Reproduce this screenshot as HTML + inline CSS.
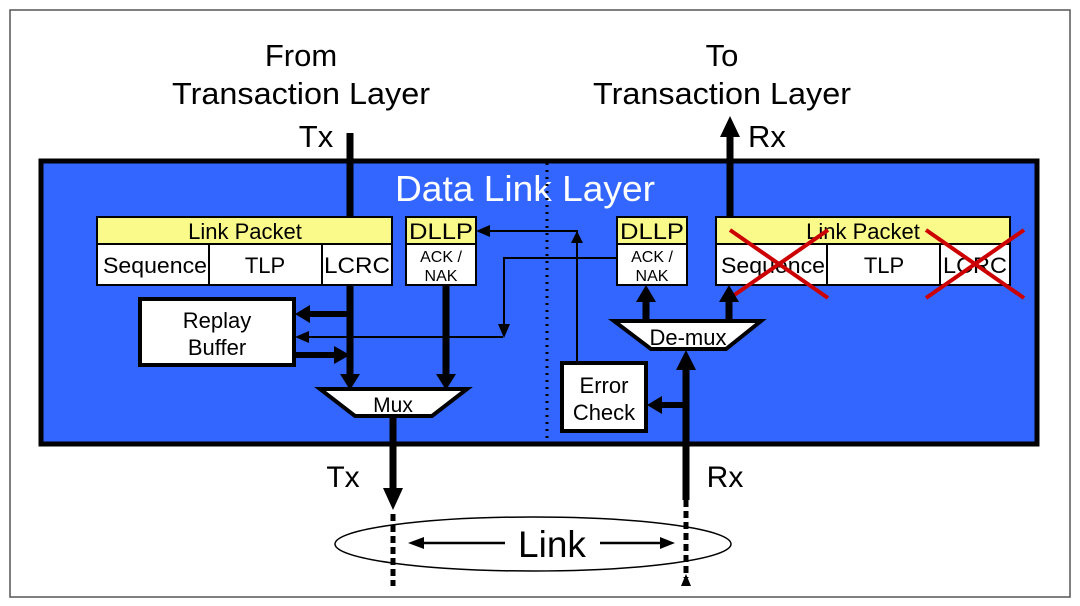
<!DOCTYPE html>
<html><head><meta charset="utf-8"><style>
html,body{margin:0;padding:0;background:#fff;}
svg{display:block;font-family:"Liberation Sans",Arial,sans-serif;}
</style></head><body>
<svg width="1080" height="606" viewBox="0 0 1080 606" xmlns="http://www.w3.org/2000/svg">
<rect x="10" y="10" width="1060" height="587" fill="#fff" stroke="#555" stroke-width="1.5"/>
<text x="301" y="66" font-size="31" text-anchor="middle">From</text>
<text x="301" y="104" font-size="31" text-anchor="middle" textLength="258" lengthAdjust="spacingAndGlyphs">Transaction Layer</text>
<text x="316" y="147" font-size="31" text-anchor="middle">Tx</text>
<text x="722" y="66" font-size="31" text-anchor="middle">To</text>
<text x="722" y="104" font-size="31" text-anchor="middle" textLength="258" lengthAdjust="spacingAndGlyphs">Transaction Layer</text>
<text x="767" y="147" font-size="31" text-anchor="middle">Rx</text>
<rect x="41" y="161" width="996" height="283" fill="#3366ff" stroke="#000" stroke-width="5"/>
<text x="525" y="201" font-size="36" fill="#fff" text-anchor="middle" textLength="260" lengthAdjust="spacingAndGlyphs">Data Link Layer</text>
<line x1="547" y1="163" x2="547" y2="442" stroke="#000" stroke-width="3" stroke-dasharray="2,5"/>
<!-- left link packet -->
<rect x="97" y="217" width="295" height="27" fill="#fafa8a" stroke="#000" stroke-width="2"/>
<text x="245" y="239" font-size="22" text-anchor="middle">Link Packet</text>
<rect x="97" y="244" width="295" height="41" fill="#fff" stroke="#000" stroke-width="2"/>
<line x1="209" y1="244" x2="209" y2="285" stroke="#000" stroke-width="2"/>
<line x1="322" y1="244" x2="322" y2="285" stroke="#000" stroke-width="2"/>
<text x="155" y="273" font-size="22" text-anchor="middle" textLength="104" lengthAdjust="spacingAndGlyphs">Sequence</text>
<text x="265" y="273" font-size="22" text-anchor="middle">TLP</text>
<text x="357" y="273" font-size="22" text-anchor="middle" textLength="66" lengthAdjust="spacingAndGlyphs">LCRC</text>
<rect x="406" y="217" width="70" height="27" fill="#fafa8a" stroke="#000" stroke-width="2"/>
<text x="441" y="239" font-size="22" text-anchor="middle" textLength="64" lengthAdjust="spacingAndGlyphs">DLLP</text>
<rect x="406" y="244" width="70" height="41" fill="#fff" stroke="#000" stroke-width="2"/>
<text x="441" y="262" font-size="16" text-anchor="middle">ACK /</text>
<text x="441" y="281" font-size="16" text-anchor="middle">NAK</text>
<!-- replay buffer -->
<rect x="140" y="299" width="154" height="66" fill="#fff" stroke="#000" stroke-width="4"/>
<text x="217" y="328" font-size="22" text-anchor="middle">Replay</text>
<text x="217" y="355" font-size="22" text-anchor="middle">Buffer</text>
<!-- Tx main line -->
<line x1="350" y1="133" x2="350" y2="217" stroke="#000" stroke-width="7"/>
<line x1="350" y1="285" x2="350" y2="376" stroke="#000" stroke-width="7"/>
<path d="M340,374 L360,374 L350,390 z"/>
<line x1="350" y1="314" x2="308" y2="314" stroke="#000" stroke-width="6"/>
<path d="M310,305 L310,323 L295,314 z"/>
<line x1="295" y1="355" x2="336" y2="355" stroke="#000" stroke-width="6"/>
<path d="M334,346 L334,364 L350,355 z"/>
<line x1="503" y1="337" x2="306" y2="337" stroke="#000" stroke-width="2"/>
<path d="M309,331 L309,343 L295,337 z"/>
<line x1="446" y1="285" x2="446" y2="376" stroke="#000" stroke-width="7"/>
<path d="M436,374 L456,374 L446,390 z"/>
<!-- thin lines from right -->
<polyline points="616,258 504,258 504,326" fill="none" stroke="#000" stroke-width="2"/>
<path d="M498,324 L510,324 L504,338 z"/>
<polyline points="577,362 577,231 488,231" fill="none" stroke="#000" stroke-width="2"/>
<path d="M490,225 L490,237 L476,231 z"/>
<path d="M571,243 L583,243 L577,231 z"/>
<!-- Mux -->
<path d="M320,389 L467,389 L432,416 L355,416 z" fill="#fff" stroke="#000" stroke-width="4"/>
<text x="393" y="412" font-size="21" text-anchor="middle">Mux</text>
<line x1="393" y1="416" x2="393" y2="492" stroke="#000" stroke-width="7"/>
<path d="M383,488 L403,488 L393,510 z"/>
<text x="343" y="487" font-size="30" text-anchor="middle">Tx</text>
<text x="725" y="487" font-size="30" text-anchor="middle">Rx</text>
<!-- right side -->
<rect x="617" y="217" width="70" height="27" fill="#fafa8a" stroke="#000" stroke-width="2"/>
<text x="652" y="239" font-size="22" text-anchor="middle" textLength="64" lengthAdjust="spacingAndGlyphs">DLLP</text>
<rect x="617" y="244" width="70" height="41" fill="#fff" stroke="#000" stroke-width="2"/>
<text x="652" y="262" font-size="16" text-anchor="middle">ACK /</text>
<text x="652" y="281" font-size="16" text-anchor="middle">NAK</text>
<rect x="716" y="217" width="294" height="27" fill="#fafa8a" stroke="#000" stroke-width="2"/>
<text x="863" y="239" font-size="22" text-anchor="middle">Link Packet</text>
<rect x="716" y="244" width="294" height="41" fill="#fff" stroke="#000" stroke-width="2"/>
<line x1="827" y1="244" x2="827" y2="285" stroke="#000" stroke-width="2"/>
<line x1="940" y1="244" x2="940" y2="285" stroke="#000" stroke-width="2"/>
<text x="773" y="273" font-size="22" text-anchor="middle" textLength="104" lengthAdjust="spacingAndGlyphs">Sequence</text>
<text x="884" y="273" font-size="22" text-anchor="middle">TLP</text>
<text x="975" y="273" font-size="22" text-anchor="middle" textLength="64" lengthAdjust="spacingAndGlyphs">LCRC</text>
<g stroke="#cc0000" stroke-width="4">
<line x1="730" y1="230" x2="828" y2="298"/><line x1="730" y1="298" x2="828" y2="230"/>
<line x1="926" y1="230" x2="1024" y2="298"/><line x1="926" y1="298" x2="1024" y2="230"/>
</g>
<line x1="730" y1="217" x2="730" y2="134" stroke="#000" stroke-width="7"/>
<path d="M720,137 L740,137 L730,116 z"/>
<!-- demux -->
<line x1="646" y1="321" x2="646" y2="300" stroke="#000" stroke-width="7"/>
<path d="M636,302 L656,302 L646,285 z"/>
<line x1="729" y1="321" x2="729" y2="300" stroke="#000" stroke-width="7"/>
<path d="M719,302 L739,302 L729,285 z"/>
<path d="M614,321 L761,321 L726,349 L651,349 z" fill="#fff" stroke="#000" stroke-width="4"/>
<text x="688" y="345" font-size="22" text-anchor="middle">De-mux</text>
<rect x="562" y="363" width="84" height="68" fill="#fff" stroke="#000" stroke-width="4"/>
<text x="604" y="393" font-size="22" text-anchor="middle">Error</text>
<text x="604" y="420" font-size="22" text-anchor="middle">Check</text>
<line x1="686" y1="500" x2="686" y2="368" stroke="#000" stroke-width="7"/>
<path d="M676,370 L696,370 L686,350 z"/>
<line x1="686" y1="405" x2="660" y2="405" stroke="#000" stroke-width="6"/>
<path d="M662,396 L662,414 L647,405 z"/>
<!-- link -->
<ellipse cx="533" cy="544" rx="198" ry="27" fill="none" stroke="#000" stroke-width="1.5"/>
<line x1="393" y1="514" x2="393" y2="586" stroke="#000" stroke-width="5" stroke-dasharray="7,4"/>
<line x1="686" y1="500" x2="686" y2="578" stroke="#000" stroke-width="5" stroke-dasharray="7,4"/>
<path d="M681,586 L691,586 L686,574 z"/>
<text x="552" y="557" font-size="37" text-anchor="middle">Link</text>
<line x1="505" y1="543" x2="420" y2="543" stroke="#000" stroke-width="2.5"/>
<path d="M424,537 L424,549 L408,543 z"/>
<line x1="600" y1="543" x2="662" y2="543" stroke="#000" stroke-width="2.5"/>
<path d="M660,537 L660,549 L675,543 z"/>
</svg>
</body></html>
